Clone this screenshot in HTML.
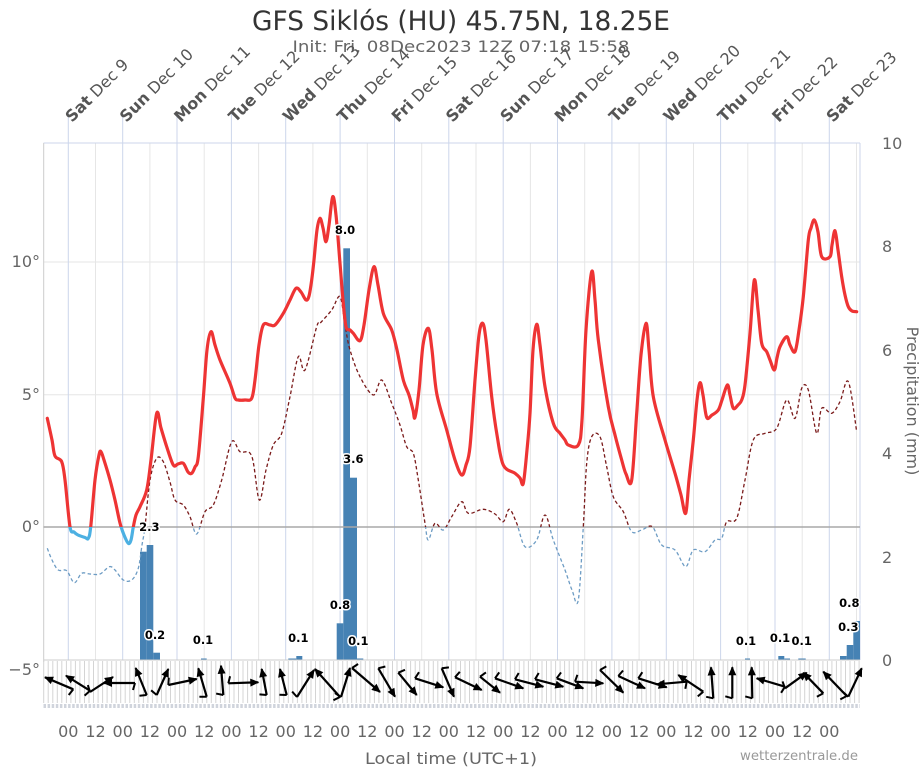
<!DOCTYPE html>
<html><head><meta charset="utf-8">
<style>
html,body{margin:0;padding:0;background:#fff;}
svg{display:block;font-family:"DejaVu Sans","Liberation Sans",sans-serif;}
.ax{fill:#666;font-size:16px;}
.bl{font-size:11.5px;font-weight:bold;fill:#000;stroke:#fff;stroke-width:3px;paint-order:stroke;stroke-linejoin:round;text-anchor:middle;}
.dl{font-size:16px;fill:#555;}
.dl tspan.b{font-weight:bold;}
</style></head>
<body>
<svg width="921" height="768" viewBox="0 0 921 768" xmlns="http://www.w3.org/2000/svg">
<defs>
<clipPath id="above"><rect x="0" y="0" width="921" height="527"/></clipPath>
<clipPath id="below"><rect x="0" y="527" width="921" height="241"/></clipPath>
<marker id="ah" markerUnits="userSpaceOnUse" orient="auto" refX="0" refY="0" style="overflow:visible">
<path d="M1,0 L-8,-4 L-8,4 Z" fill="#000"/>
</marker>
<marker id="bb" markerUnits="userSpaceOnUse" orient="auto" refX="0" refY="0" style="overflow:visible">
<path d="M0,0 L2,-7" stroke="#000" stroke-width="2" fill="none"/>
</marker>
</defs>
<rect width="921" height="768" fill="#fff"/>

<!-- titles -->
<text x="461" y="30" text-anchor="middle" font-size="27" fill="#333" textLength="418" lengthAdjust="spacingAndGlyphs">GFS Siklós (HU) 45.75N, 18.25E</text>
<text x="461" y="52" text-anchor="middle" font-size="16" fill="#666" textLength="337" lengthAdjust="spacingAndGlyphs">Init: Fri, 08Dec2023 12Z 07:18 15:58</text>

<!-- horizontal grid -->
<g stroke="#e6e6e6" stroke-width="1">
<line x1="43.5" y1="262" x2="860" y2="262"/>
<line x1="43.5" y1="394.7" x2="860" y2="394.7"/>
</g>

<!-- 12h vertical lines -->
<g stroke="#e6e6e6" stroke-width="1">
<line x1="95.5" y1="143" x2="95.5" y2="660"/>
<line x1="149.9" y1="143" x2="149.9" y2="660"/>
<line x1="204.2" y1="143" x2="204.2" y2="660"/>
<line x1="258.6" y1="143" x2="258.6" y2="660"/>
<line x1="312.9" y1="143" x2="312.9" y2="660"/>
<line x1="367.3" y1="143" x2="367.3" y2="660"/>
<line x1="421.7" y1="143" x2="421.7" y2="660"/>
<line x1="476.0" y1="143" x2="476.0" y2="660"/>
<line x1="530.4" y1="143" x2="530.4" y2="660"/>
<line x1="584.7" y1="143" x2="584.7" y2="660"/>
<line x1="639.1" y1="143" x2="639.1" y2="660"/>
<line x1="693.5" y1="143" x2="693.5" y2="660"/>
<line x1="747.8" y1="143" x2="747.8" y2="660"/>
<line x1="802.2" y1="143" x2="802.2" y2="660"/>
<line x1="856.5" y1="143" x2="856.5" y2="660"/>
</g>
<!-- day lines -->
<g stroke="#ccd6eb" stroke-width="1">
<line x1="68.3" y1="113" x2="68.3" y2="660"/>
<line x1="122.7" y1="113" x2="122.7" y2="660"/>
<line x1="177.0" y1="113" x2="177.0" y2="660"/>
<line x1="231.4" y1="113" x2="231.4" y2="660"/>
<line x1="285.7" y1="113" x2="285.7" y2="660"/>
<line x1="340.1" y1="113" x2="340.1" y2="660"/>
<line x1="394.5" y1="113" x2="394.5" y2="660"/>
<line x1="448.8" y1="113" x2="448.8" y2="660"/>
<line x1="503.2" y1="113" x2="503.2" y2="660"/>
<line x1="557.5" y1="113" x2="557.5" y2="660"/>
<line x1="611.9" y1="113" x2="611.9" y2="660"/>
<line x1="666.3" y1="113" x2="666.3" y2="660"/>
<line x1="720.6" y1="113" x2="720.6" y2="660"/>
<line x1="775.0" y1="113" x2="775.0" y2="660"/>
<line x1="829.3" y1="113" x2="829.3" y2="660"/>
<line x1="43.5" y1="143" x2="860" y2="143"/>
<line x1="860" y1="143" x2="860" y2="660"/>
</g>
<line x1="43.7" y1="143" x2="43.7" y2="662" stroke="#ccc" stroke-width="1"/>

<!-- day labels -->
<g class="dl">
<text transform="translate(72,123) rotate(-45)"><tspan class="b">Sat</tspan> Dec 9</text>
<text transform="translate(126.4,123) rotate(-45)"><tspan class="b">Sun</tspan> Dec 10</text>
<text transform="translate(180.7,123) rotate(-45)"><tspan class="b">Mon</tspan> Dec 11</text>
<text transform="translate(235.1,123) rotate(-45)"><tspan class="b">Tue</tspan> Dec 12</text>
<text transform="translate(289.4,123) rotate(-45)"><tspan class="b">Wed</tspan> Dec 13</text>
<text transform="translate(343.8,123) rotate(-45)"><tspan class="b">Thu</tspan> Dec 14</text>
<text transform="translate(398.2,123) rotate(-45)"><tspan class="b">Fri</tspan> Dec 15</text>
<text transform="translate(452.5,123) rotate(-45)"><tspan class="b">Sat</tspan> Dec 16</text>
<text transform="translate(506.9,123) rotate(-45)"><tspan class="b">Sun</tspan> Dec 17</text>
<text transform="translate(561.2,123) rotate(-45)"><tspan class="b">Mon</tspan> Dec 18</text>
<text transform="translate(615.6,123) rotate(-45)"><tspan class="b">Tue</tspan> Dec 19</text>
<text transform="translate(670,123) rotate(-45)"><tspan class="b">Wed</tspan> Dec 20</text>
<text transform="translate(724.3,123) rotate(-45)"><tspan class="b">Thu</tspan> Dec 21</text>
<text transform="translate(778.7,123) rotate(-45)"><tspan class="b">Fri</tspan> Dec 22</text>
<text transform="translate(833,123) rotate(-45)"><tspan class="b">Sat</tspan> Dec 23</text>
</g>

<!-- left axis labels -->
<g class="ax" text-anchor="end">
<text x="40" y="267">10°</text>
<text x="40" y="400">5°</text>
<text x="40" y="532">0°</text>
<text x="40" y="675">−5°</text>
</g>
<!-- right axis labels -->
<g class="ax" text-anchor="start">
<text x="882" y="149">10</text>
<text x="882" y="252">8</text>
<text x="882" y="356">6</text>
<text x="882" y="459">4</text>
<text x="882" y="563">2</text>
<text x="882" y="666">0</text>
</g>
<text class="ax" transform="translate(907,401) rotate(90)" text-anchor="middle" font-size="16">Precipitation (mm)</text>

<!-- precipitation bars -->
<g fill="#4682b4">
<rect x="140" y="551.7" width="6.7" height="108.3"/>
<rect x="146.7" y="545" width="6.6" height="115"/>
<rect x="153.3" y="652.7" width="6.7" height="7.3"/>
<rect x="201" y="658.5" width="5.7" height="1.5"/>
<rect x="288.3" y="658.5" width="8" height="1.5"/>
<rect x="296.3" y="656" width="6" height="4"/>
<rect x="336.7" y="623.3" width="6.6" height="36.7"/>
<rect x="343.3" y="248.3" width="6.7" height="411.7"/>
<rect x="350" y="477.7" width="7" height="182.3"/>
<rect x="357" y="658.5" width="6.3" height="1.5"/>
<rect x="745" y="658.5" width="5" height="1.5"/>
<rect x="778.3" y="656" width="6" height="4"/>
<rect x="784.3" y="658.5" width="5.7" height="1.5"/>
<rect x="798.3" y="658.5" width="7.4" height="1.5"/>
<rect x="840" y="656" width="6.7" height="4"/>
<rect x="846.7" y="645" width="6.6" height="15"/>
<rect x="853.3" y="621" width="6.7" height="39"/>
</g>

<!-- zero line -->
<line x1="43.5" y1="527" x2="860" y2="527" stroke="#a8a8a8" stroke-width="1.5"/>

<!-- dew point dashed -->
<g fill="none" stroke-width="1.3" stroke-dasharray="3.5,2.5">
<polyline class="sm" clip-path="url(#above)" stroke="#7a1a1a" points="47.3,548.3 52,560 58.3,570 66.7,570.7 74.3,582.7 81.7,573.3 90,574 100,574 109.3,566.7 115,570 123.3,580 131.7,580 138.3,568.3 142,545 145,526.7 150,480 156.7,458.3 163.3,461.7 170,482 175,500 183.3,505 190,516.7 196.7,534 205,511.7 213.3,505 221.7,480 231.7,441.7 240,451.7 251.7,456 259.3,500 266,470 273.3,445 281.7,433.3 290,396.7 298.3,356.7 305,370 316.7,326.7 320,323.3 331.7,310 340,296.7 345,325 350,350 360,376.7 373.3,395 381.7,380 391.7,403.3 400,425 406.7,446.7 413.3,453.3 418.3,480 425,523.3 428.3,540 435,523.3 443.3,530 451.7,516.7 461.7,501.7 468.3,513.3 483.3,509.3 495,514 503.3,521.7 509.3,509.3 516.7,523.3 525,546.7 536.7,540 545,515 553.3,540 565,570 572,590 578.3,600 583.3,526.7 586.7,463.3 591.7,436.7 600,436.7 606.7,466.7 613.3,496.7 623.3,511.7 631.7,531.7 641.7,530 652.3,526.7 661.7,545 675,550 685.7,566.7 693.3,550 705,551.7 715,540 721.7,538.3 726.7,521.7 736.7,518.3 745,480 753.3,440 765,433.3 776.7,428.3 786.7,400 795,418.3 801.7,388.3 808.3,390 816.7,433.3 821.7,408.3 831.7,413.3 840,401.7 848.3,381.7 856.7,431.7"/>
<polyline class="sm" clip-path="url(#below)" stroke="#6d9cc4" points="47.3,548.3 52,560 58.3,570 66.7,570.7 74.3,582.7 81.7,573.3 90,574 100,574 109.3,566.7 115,570 123.3,580 131.7,580 138.3,568.3 142,545 145,526.7 150,480 156.7,458.3 163.3,461.7 170,482 175,500 183.3,505 190,516.7 196.7,534 205,511.7 213.3,505 221.7,480 231.7,441.7 240,451.7 251.7,456 259.3,500 266,470 273.3,445 281.7,433.3 290,396.7 298.3,356.7 305,370 316.7,326.7 320,323.3 331.7,310 340,296.7 345,325 350,350 360,376.7 373.3,395 381.7,380 391.7,403.3 400,425 406.7,446.7 413.3,453.3 418.3,480 425,523.3 428.3,540 435,523.3 443.3,530 451.7,516.7 461.7,501.7 468.3,513.3 483.3,509.3 495,514 503.3,521.7 509.3,509.3 516.7,523.3 525,546.7 536.7,540 545,515 553.3,540 565,570 572,590 578.3,600 583.3,526.7 586.7,463.3 591.7,436.7 600,436.7 606.7,466.7 613.3,496.7 623.3,511.7 631.7,531.7 641.7,530 652.3,526.7 661.7,545 675,550 685.7,566.7 693.3,550 705,551.7 715,540 721.7,538.3 726.7,521.7 736.7,518.3 745,480 753.3,440 765,433.3 776.7,428.3 786.7,400 795,418.3 801.7,388.3 808.3,390 816.7,433.3 821.7,408.3 831.7,413.3 840,401.7 848.3,381.7 856.7,431.7"/>
</g>

<!-- temperature -->
<g fill="none" stroke-width="3.2" stroke-linejoin="round" stroke-linecap="round">
<polyline class="sm" clip-path="url(#above)" stroke="#ee3434" points="47.3,418.3 52,440 55,456 61.7,461.7 65,480 70,526.7 74,532 78,535 85,537.5 88.3,538.3 90.7,527 95,480 99,455 101,451.7 104,460 110,480 115,500 120,523 124,535 128.3,543.3 131,540 133.3,527 136,515 140,506.7 146.7,490 151,460 156.7,413.3 161,428 166.7,446.7 173.3,465 178,464 183.3,463.3 188,472 191.7,473.3 195,467 198.3,456.7 203.3,398.3 207,350 211,331.7 215,345 220,360 230,383.3 235,398 238.3,400 245,400 251.7,398.3 255,380 259,345 263.3,325 270,325 275,325 283.3,313.3 290,300 296,288.3 301,292 306,300 309,296 311.7,280 314,260 317,230 320,218.3 323,228 326,241.7 329,225 332.7,196.7 336,215 340,263.3 343,300 346,326.7 350,330 353.3,333.3 360,340.7 364,325 369,290 374,266.7 378,285 383.3,313.3 391.7,330 397,350 403.3,380 409,395 413,410 415,417.3 419,390 423,345 428.3,328.3 432,350 436.7,393.3 446.7,430 455,460 461.7,475 466,465 470,446.7 475,380 479,335 482.7,323.3 486,340 491.7,396.7 497,435 503.3,465 515,473.3 520,478 523.3,483.3 527,450 530,413.3 533,350 536.7,324.3 540,345 545,386.7 553.3,423.3 560,433.3 565,440 568.3,445 578.3,445 582,420 586,330 591.7,271.7 595,300 598.3,340 608.3,406.7 615,435 621.7,460 626,474 631.7,480 636.7,413.3 641,355 646,323.3 649,350 653.3,396.7 665,440 675,473.3 681,495 685.7,513.3 689,480 693.3,440 697,400 700,382.7 703,395 706.7,417.3 712,415 718.3,410 722,400 727.3,385 730,395 733.3,408.3 738,405 741.7,400 745,385 750,333.3 754.3,280 758,310 761.7,343.3 766.7,351.7 770,360 774.3,370 777,358 780,346.7 786.7,336.7 790,345 795,351.7 799,330 803.3,296.7 808.3,240 811,228 814.3,220 818,232 821.7,256.7 830,256.7 832,245 835,230.7 838,250 841.7,276.7 845,295 848.3,306.7 852,311 856.7,311.7"/>
<polyline class="sm" clip-path="url(#below)" stroke="#4cb0e2" points="61.7,461.7 65,480 70,526.7 74,532 78,535 85,537.5 88.3,538.3 90.7,527 95,480 115,500 120,523 124,535 128.3,543.3 131,540 133.3,527 136,515"/>
</g>

<!-- bar labels -->
<g class="bl">
<text x="149.3" y="531">2.3</text>
<text x="155" y="639">0.2</text>
<text x="203" y="644">0.1</text>
<text x="298.3" y="642">0.1</text>
<text x="345" y="234">8.0</text>
<text x="353.3" y="463">3.6</text>
<text x="340" y="609">0.8</text>
<text x="358.3" y="645">0.1</text>
<text x="746" y="645">0.1</text>
<text x="780" y="642">0.1</text>
<text x="801.7" y="645">0.1</text>
<text x="848.3" y="631">0.3</text>
<text x="849.3" y="607">0.8</text>
</g>

<!-- wind area -->
<line x1="43.5" y1="660" x2="860" y2="660" stroke="#ccc" stroke-width="1"/>
<g id="wl" stroke="#d4d4d4" stroke-width="1"></g>
<line x1="43.5" y1="706" x2="860" y2="706" stroke="#d0d4dc" stroke-width="4" stroke-dasharray="2.5,1.6"/>

<g stroke="#000" stroke-width="2.2" fill="none" marker-end="url(#ah)" marker-start="url(#bb)">
<line x1="73.3" y1="689.3" x2="45" y2="677.3"/>
<line x1="90" y1="690.7" x2="66" y2="675.7"/>
<line x1="90" y1="692" x2="113" y2="677"/>
<line x1="135" y1="683" x2="104" y2="683"/>
<line x1="146.7" y1="695" x2="135.7" y2="668"/>
<line x1="156.7" y1="695" x2="168.3" y2="669"/>
<line x1="168.3" y1="685" x2="196.7" y2="679"/>
<line x1="206.7" y1="696.7" x2="198.3" y2="668.3"/>
<line x1="223.3" y1="695" x2="221" y2="665.7"/>
<line x1="228.3" y1="683.3" x2="258.3" y2="682.3"/>
<line x1="266.7" y1="695" x2="261.7" y2="669"/>
<line x1="286.7" y1="695" x2="280" y2="669"/>
<line x1="297" y1="697" x2="314" y2="670"/>
<line x1="340" y1="697" x2="315" y2="669"/>
<line x1="341" y1="697" x2="350" y2="668"/>
<line x1="352" y1="668" x2="380" y2="692"/>
<line x1="378.3" y1="668.3" x2="395" y2="696.7"/>
<line x1="398.3" y1="672.7" x2="416.7" y2="695"/>
<line x1="415" y1="678.3" x2="443.3" y2="687.3"/>
<line x1="441.7" y1="668.3" x2="454" y2="696.7"/>
<line x1="455" y1="677.3" x2="481.7" y2="690"/>
<line x1="480" y1="676.7" x2="500" y2="692.7"/>
<line x1="495" y1="678.3" x2="523.3" y2="688.3"/>
<line x1="515" y1="679.3" x2="543.3" y2="686.7"/>
<line x1="535" y1="679.3" x2="563.3" y2="686.7"/>
<line x1="556.7" y1="678.3" x2="583.3" y2="688.3"/>
<line x1="575" y1="681.7" x2="603.3" y2="683.3"/>
<line x1="600" y1="670" x2="623.3" y2="692.7"/>
<line x1="618.3" y1="676" x2="645" y2="688.3"/>
<line x1="638.3" y1="678.3" x2="666.7" y2="687.3"/>
<line x1="686.7" y1="681.7" x2="656.7" y2="684.3"/>
<line x1="703.3" y1="691.7" x2="678.3" y2="675"/>
<line x1="713.3" y1="698.3" x2="711" y2="667.3"/>
<line x1="732.3" y1="698.3" x2="732.3" y2="667.3"/>
<line x1="752.3" y1="698.3" x2="751.7" y2="667.3"/>
<line x1="785" y1="686.7" x2="756.7" y2="678.3"/>
<line x1="785" y1="688.3" x2="806.7" y2="672.7"/>
<line x1="823.3" y1="693.3" x2="803.3" y2="672.7"/>
<line x1="846.7" y1="696" x2="823.3" y2="671.7"/>
<line x1="848.3" y1="696.7" x2="861.7" y2="668.3"/>
</g>

<!-- bottom labels -->
<g class="ax" text-anchor="middle" font-size="16">
<text x="68.3" y="737">00</text><text x="95.5" y="737">12</text>
<text x="122.7" y="737">00</text><text x="149.9" y="737">12</text>
<text x="177.0" y="737">00</text><text x="204.2" y="737">12</text>
<text x="231.4" y="737">00</text><text x="258.6" y="737">12</text>
<text x="285.7" y="737">00</text><text x="312.9" y="737">12</text>
<text x="340.1" y="737">00</text><text x="367.3" y="737">12</text>
<text x="394.5" y="737">00</text><text x="421.7" y="737">12</text>
<text x="448.8" y="737">00</text><text x="476.0" y="737">12</text>
<text x="503.2" y="737">00</text><text x="530.4" y="737">12</text>
<text x="557.5" y="737">00</text><text x="584.7" y="737">12</text>
<text x="611.9" y="737">00</text><text x="639.1" y="737">12</text>
<text x="666.3" y="737">00</text><text x="693.5" y="737">12</text>
<text x="720.6" y="737">00</text><text x="747.8" y="737">12</text>
<text x="775.0" y="737">00</text><text x="802.2" y="737">12</text>
<text x="829.3" y="737">00</text>
</g>
<text class="ax" x="451" y="764" text-anchor="middle" font-size="16" textLength="172" lengthAdjust="spacingAndGlyphs">Local time (UTC+1)</text>
<text x="858" y="760" text-anchor="end" font-size="13" fill="#999" textLength="118" lengthAdjust="spacingAndGlyphs">wetterzentrale.de</text>
</svg>
<script>
(function(){
var ns='http://www.w3.org/2000/svg';
var g=document.getElementById('wl');
for(var x=43.7;x<=860;x+=4.53){var l=document.createElementNS(ns,'line');l.setAttribute('x1',x.toFixed(1));l.setAttribute('x2',x.toFixed(1));l.setAttribute('y1','661');l.setAttribute('y2','703');g.appendChild(l);}
var pls=document.querySelectorAll('polyline.sm');
for(var i=0;i<pls.length;i++){
 var pl=pls[i];
 var raw=pl.getAttribute('points').trim().split(/\s+/);
 var p=[];for(var j=0;j<raw.length;j++){var c=raw[j].split(',');p.push([parseFloat(c[0]),parseFloat(c[1])]);}
 var d='M'+p[0][0]+','+p[0][1];
 for(var k=0;k<p.length-1;k++){
  var p0=p[k>0?k-1:k],p1=p[k],p2=p[k+1],p3=p[k+2<p.length?k+2:k+1];
  var c1x=p1[0]+(p2[0]-p0[0])/6,c1y=p1[1]+(p2[1]-p0[1])/6;
  var c2x=p2[0]-(p3[0]-p1[0])/6,c2y=p2[1]-(p3[1]-p1[1])/6;
  d+=' C'+c1x.toFixed(2)+','+c1y.toFixed(2)+' '+c2x.toFixed(2)+','+c2y.toFixed(2)+' '+p2[0]+','+p2[1];
 }
 var path=document.createElementNS(ns,'path');
 path.setAttribute('d',d);
 var attrs=['clip-path','stroke'];
 for(var a=0;a<attrs.length;a++){var v=pl.getAttribute(attrs[a]);if(v)path.setAttribute(attrs[a],v);}
 pl.parentNode.replaceChild(path,pl);
}
})();
</script>
</body></html>
